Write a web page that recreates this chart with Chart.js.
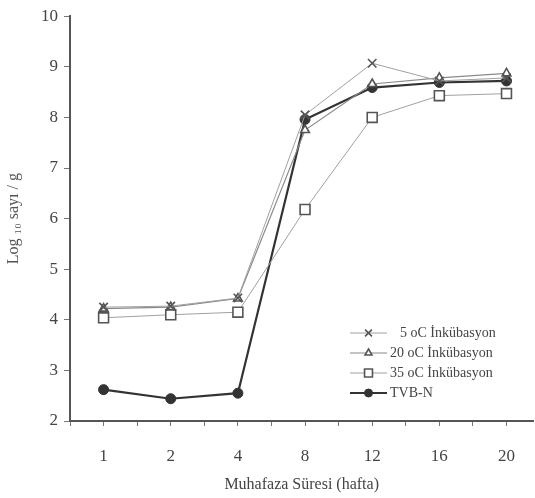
<!DOCTYPE html>
<html>
<head>
<meta charset="utf-8">
<script src="https://cdn.jsdelivr.net/npm/chart.js@4"></script>
<style>
  html, body { margin: 0; padding: 0; background: #fff; }
  #wrap { width: 535px; height: 498px; }
</style>
</head>
<body>
<div id="wrap"><canvas id="lineChart" width="535" height="498"></canvas></div>
<script>
// weeks of storage (Muhafaza Süresi, hafta)
const weeks = ['1', '2', '4', '8', '12', '16', '20'];
const yTicks = [2, 3, 4, 5, 6, 7, 8, 9, 10];

const inc5 = [4.25, 4.27, 4.43, 8.05, 9.07, 8.72, 8.78];
const inc20 = [4.22, 4.25, 4.42, 7.75, 8.66, 8.78, 8.87];
const inc35 = [4.04, 4.10, 4.15, 6.18, 8.00, 8.43, 8.47];
const tvbn = [2.62, 2.44, 2.55, 7.96, 8.59, 8.69, 8.72];

const seriesNames = ['5 oC İnkübasyon', '20 oC İnkübasyon', '35 oC İnkübasyon', 'TVB-N'];

const toPoints = vals => vals.map((v, i) => ({ x: i + 1, y: v }));
const serif = "'Liberation Serif', 'DejaVu Serif', serif";

// legend drawn inside the plot area, bottom right
const insideLegend = {
  id: 'insideLegend',
  afterDatasetsDraw(chart) {
    const ctx = chart.ctx;
    const x0 = 350, x1 = 387, y0 = 333, dy = 20;
    ctx.save();
    chart.data.datasets.forEach((ds, i) => {
      const y = y0 + i * dy;
      ctx.strokeStyle = ds.borderColor;
      ctx.lineWidth = ds.borderWidth;
      ctx.beginPath();
      ctx.moveTo(x0, y);
      ctx.lineTo(x1, y);
      ctx.stroke();
      ctx.strokeStyle = ds.pointBorderColor;
      ctx.fillStyle = ds.pointBackgroundColor;
      ctx.lineWidth = ds.pointBorderWidth;
      Chart.helpers.drawPoint(ctx, {
        pointStyle: ds.pointStyle,
        radius: ds.pointRadius * 0.8,
        rotation: 0,
        borderWidth: ds.pointBorderWidth
      }, (x0 + x1) / 2, y);
      ctx.fillStyle = '#444';
      ctx.font = '14px ' + serif;
      ctx.textBaseline = 'middle';
      // single-digit temperature is indented like in the original
      const indent = /^\d\s/.test(ds.label) ? 10 : 0;
      ctx.fillText(ds.label, x1 + 3 + indent, y);
    });
    ctx.restore();
  }
};

const lineCtx = document.getElementById('lineChart').getContext('2d');
new Chart(lineCtx, {
  type: 'line',
  data: {
    datasets: [
      {
        label: seriesNames[0],
        data: toPoints(inc5),
        borderColor: '#a0a0a0',
        borderWidth: 1,
        pointStyle: 'crossRot',
        pointRadius: 6,
        pointBorderWidth: 1.6,
        pointBorderColor: '#555',
        pointBackgroundColor: '#555'
      },
      {
        label: seriesNames[1],
        data: toPoints(inc20),
        borderColor: '#8a8a8a',
        borderWidth: 1.2,
        pointStyle: 'triangle',
        pointRadius: 5,
        pointBorderWidth: 1.6,
        pointBorderColor: '#555',
        pointBackgroundColor: '#fff'
      },
      {
        label: seriesNames[2],
        data: toPoints(inc35),
        borderColor: '#a0a0a0',
        borderWidth: 1,
        pointStyle: 'rect',
        pointRadius: 7,
        pointBorderWidth: 1.6,
        pointBorderColor: '#555',
        pointBackgroundColor: '#fff'
      },
      {
        label: seriesNames[3],
        data: toPoints(tvbn),
        borderColor: '#333',
        borderWidth: 2.2,
        pointStyle: 'circle',
        pointRadius: 5,
        pointBorderWidth: 1,
        pointBorderColor: '#333',
        pointBackgroundColor: '#333'
      }
    ]
  },
  options: {
    responsive: false,
    animation: false,
    layout: { autoPadding: false, padding: { top: 13, right: 0, left: 0, bottom: 0 } },
    plugins: {
      legend: { display: false },
      tooltip: { enabled: false }
    },
    scales: {
      x: {
        type: 'linear',
        min: 0.5,
        max: 7.4,
        afterFit: s => { s.height = 77; },
        afterBuildTicks: s => {
          s.ticks = [];
          for (let v = 0.5; v <= 7.4; v += 0.5) s.ticks.push({ value: v });
        },
        ticks: {
          autoSkip: false,
          maxRotation: 0,
          padding: 20,
          color: '#444',
          font: { family: serif, size: 17 },
          callback: v => Number.isInteger(v) ? weeks[v - 1] : ''
        },
        grid: { drawOnChartArea: false, drawTicks: true, tickLength: 5, color: '#777' },
        border: { display: true, color: '#555', width: 2 },
        title: {
          display: true,
          text: 'Muhafaza Süresi (hafta)',
          color: '#444',
          font: { family: serif, size: 16 },
          padding: { top: 0 }
        }
      },
      y: {
        min: 2,
        max: 10,
        afterFit: s => { s.width = 70; },
        afterBuildTicks: s => { s.ticks = yTicks.map(v => ({ value: v })); },
        ticks: {
          padding: 6,
          color: '#444',
          font: { family: serif, size: 17 }
        },
        grid: { drawOnChartArea: false, drawTicks: true, tickLength: 6, color: '#777' },
        border: { display: true, color: '#555', width: 2 },
        title: {
          display: true,
          text: 'Log ₁₀ sayı / g',
          color: '#555',
          font: { family: serif, size: 16 },
          padding: { bottom: 2 }
        }
      }
    }
  },
  plugins: [insideLegend]
});
</script>
</body>
</html>
